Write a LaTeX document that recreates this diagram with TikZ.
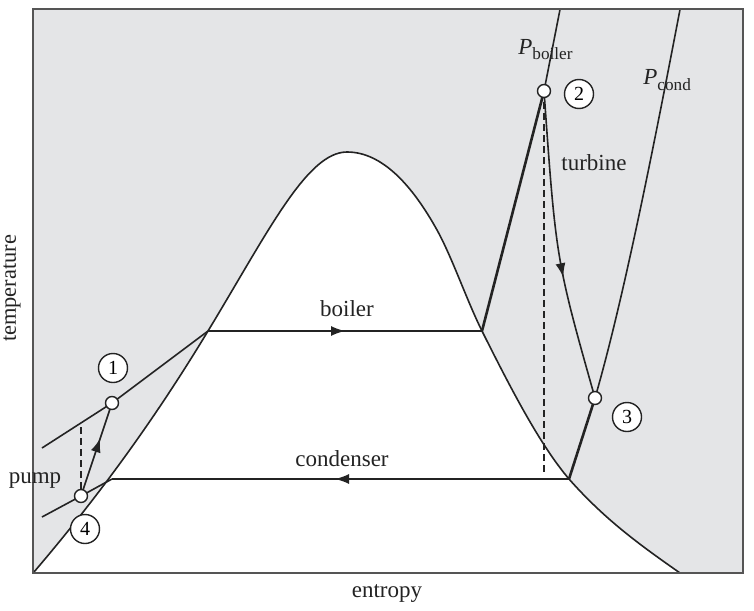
\documentclass[tikz,border=0pt]{standalone}
\usepackage{fontspec}
\setmainfont{Liberation Serif}
\usetikzlibrary{arrows.meta,decorations.markings}
\definecolor{bg}{RGB}{228,229,231}
\definecolor{framec}{RGB}{85,85,85}
\definecolor{ink}{RGB}{35,35,35}
\begin{document}
\begin{tikzpicture}[x=0.5pt,y=-0.5pt,
  curve/.style={draw=ink,line width=0.8pt},
  thickcurve/.style={draw=ink,line width=1.3pt},
  dashline/.style={draw=ink,line width=0.8pt,dash pattern=on 3.5pt off 2pt},
  state/.style={circle,draw=ink,fill=white,line width=0.7pt,minimum size=6.5pt,inner sep=0pt},
  tag/.style={circle,draw=ink,fill=white,line width=0.7pt,minimum size=14.5pt,inner sep=0pt,font=\fontsize{10}{10}\selectfont},
  lbl/.style={font=\fontsize{11.5}{14}\selectfont,inner sep=0pt,text=ink},
  midarrow/.style={postaction={decorate},decoration={markings,mark=at position #1 with {\arrow{Latex[length=7pt,width=5pt]}}}},
]
\useasboundingbox (0,0) rectangle (754,610);
\fill[white] (0,0) rectangle (754,610);
\fill[bg] (33,9.5) rectangle (743,573);

% key points
\coordinate (O) at (34,572);
\coordinate (A) at (208,331);
\coordinate (T) at (347,152);
\coordinate (R) at (437,230);
\coordinate (B) at (482,331);
\coordinate (C) at (112,479);
\coordinate (D) at (569,479);
\coordinate (E) at (680,573);
\coordinate (p1) at (112,403);
\coordinate (p2) at (544,91);
\coordinate (p3) at (595,398);
\coordinate (p4) at (81,496);
\coordinate (bl) at (42,448);
\coordinate (cl) at (42,517);
\coordinate (btop) at (560,9.5);
\coordinate (ctop) at (680,9.5);
\coordinate (pd) at (81,427);
\coordinate (dd) at (544,475);

% dome (saturation curve)
\def\dome{(O) .. controls (92,504) and (150,427) .. (A)
  .. controls (268,232) and (307,152) .. (T)
  .. controls (382,152) and (412,185) .. (R)
  .. controls (452,257) and (467,301) .. (B)
  .. controls (511,389) and (540,445) .. (D)
  .. controls (606,521) and (643,547) .. (E)}
\fill[white] \dome -- cycle;
\draw[curve] \dome;

% dashed isentropes
\draw[dashline] (pd) -- (p4);
\draw[dashline] (p2) -- (dd);

% boiler isobar
\draw[curve] (bl) -- (p1) -- (A);
\draw[curve,midarrow=0.5] (A) -- (B);
\draw[thickcurve] (B) -- (p2);
\draw[curve] (p2) -- (btop);

% turbine
\draw[curve,midarrow=0.6] (p2) .. controls (556,260) .. (p3);

% condenser isobar
\draw[thickcurve] (D) -- (p3);
\draw[curve] (p3) .. controls (624,298) and (655,140) .. (ctop);
\draw[curve,midarrow=0.512] (D) -- (C);
\draw[curve] (cl) -- (p4) -- (C);

% pump
\draw[curve,midarrow=0.62] (p4) -- (p1);

% frame
\draw[framec,line width=1pt] (33,9.5) rectangle (743,573);

% state points
\node[state] (s1) at (p1) {};
\node[state] (s2) at (p2) {};
\node[state] (s3) at (p3) {};
\node[state] (s4) at (p4) {};

% tags
\node[tag] (t1) at (113,368) {1};
\node[tag] (t2) at (579,94) {2};
\node[tag] (t3) at (627,417) {3};
\node[tag] (t4) at (85,529) {4};

% labels
\node[lbl] (lboiler) at (347,309) {boiler};
\node[lbl] (lcond) at (342,459) {condenser};
\node[lbl] (lturb) at (594,163) {turbine};
\node[lbl,anchor=base] (lpump) at (35,483) {pump};
\node[lbl,anchor=base] (lent) at (387,597) {entropy};
\node[lbl,rotate=90,anchor=base,font=\fontsize{11.2}{13}\selectfont] (ltemp) at (16,288.5) {temperature};
\node[lbl,anchor=base west] (lpb) at (518,55) {\itshape P\upshape\raisebox{-2pt}{\fontsize{8.6}{9}\selectfont boiler}};
\node[lbl,anchor=base west] (lpc) at (643,85) {\itshape P\upshape\raisebox{-2.5pt}{\fontsize{8.6}{9}\selectfont cond}};
\end{tikzpicture}
\end{document}
